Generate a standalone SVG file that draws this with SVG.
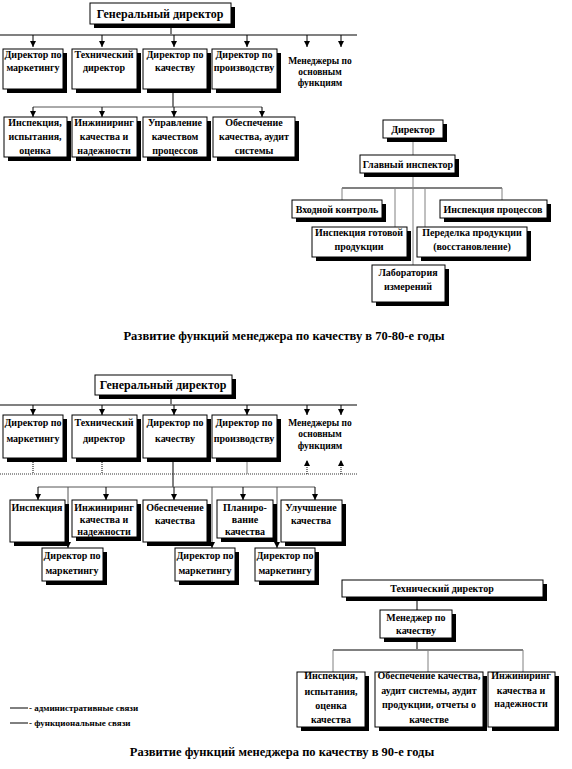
<svg xmlns="http://www.w3.org/2000/svg" width="572" height="769" viewBox="0 0 572 769">
<defs>
<style>
.sh{fill:#000}
.bx{fill:#fff;stroke:#000;stroke-width:1}
.t{font-family:"Liberation Serif","Times New Roman",serif;font-weight:bold;font-size:10px;fill:#000;text-anchor:middle}
.tb{font-size:12px}
.tm{font-size:9.5px}
.cap{font-family:"Liberation Serif","Times New Roman",serif;font-weight:bold;font-size:12.5px;fill:#000;text-anchor:middle}
.lg{font-family:"Liberation Serif","Times New Roman",serif;font-weight:bold;font-size:9px;fill:#000}
.bar{stroke:#808080;stroke-width:2;fill:none}
.gl{stroke:#808080;stroke-width:1;fill:none}
.dl{stroke:#555;stroke-width:1;fill:none}
.bl{stroke:#000;stroke-width:1;fill:none}
.dot{stroke:#000;stroke-width:1;stroke-dasharray:1,1;fill:none}
.dotg{stroke:#999;stroke-width:2;stroke-dasharray:1,1;fill:none}
</style>
<marker id="ah" viewBox="0 0 6 6" refX="6" refY="3" markerWidth="6" markerHeight="6" markerUnits="userSpaceOnUse" orient="auto"><path d="M0,0 L6,3 L0,6 z" fill="#000"/></marker>
</defs>
<rect width="572" height="769" fill="#fff"/>

<g id="connectors">
<!-- chart 1 -->
<line class="bl" x1="171" y1="24" x2="171" y2="35"/>
<line class="bar" x1="0" y1="35" x2="357" y2="35"/>
<line class="bl" x1="33" y1="35" x2="33" y2="47" marker-end="url(#ah)"/>
<line class="bl" x1="102" y1="35" x2="102" y2="47" marker-end="url(#ah)"/>
<line class="bl" x1="174" y1="35" x2="174" y2="47" marker-end="url(#ah)"/>
<line class="bl" x1="247" y1="35" x2="247" y2="47" marker-end="url(#ah)"/>
<line class="bl" x1="307" y1="35" x2="307" y2="47" marker-end="url(#ah)"/>
<line class="bl" x1="341" y1="35" x2="341" y2="47" marker-end="url(#ah)"/>
<line class="bl" x1="173" y1="93" x2="173" y2="107"/>
<line class="dl" x1="33" y1="107" x2="262" y2="107"/>
<line class="bl" x1="33" y1="107" x2="33" y2="117" marker-end="url(#ah)"/>
<line class="bl" x1="102" y1="107" x2="102" y2="117" marker-end="url(#ah)"/>
<line class="bl" x1="174" y1="107" x2="174" y2="117" marker-end="url(#ah)"/>
<line class="bl" x1="262" y1="107" x2="262" y2="117" marker-end="url(#ah)"/>
<!-- right chart 1 -->
<line class="gl" x1="413" y1="138" x2="413" y2="155"/>
<line class="gl" x1="413" y1="173" x2="413" y2="265"/>
<line class="bar" x1="342" y1="188" x2="502" y2="188"/>
<line class="gl" x1="342" y1="188" x2="342" y2="200"/>
<line class="gl" x1="502" y1="188" x2="502" y2="200"/>
<line class="gl" x1="395" y1="188" x2="395" y2="227"/>
<line class="gl" x1="425" y1="188" x2="425" y2="227"/>
<!-- chart 2 -->
<line class="bl" x1="171" y1="395" x2="171" y2="405"/>
<line class="bar" x1="0" y1="405" x2="357" y2="405"/>
<line class="bl" x1="33" y1="405" x2="33" y2="415" marker-end="url(#ah)"/>
<line class="bl" x1="102" y1="405" x2="102" y2="415" marker-end="url(#ah)"/>
<line class="bl" x1="174" y1="405" x2="174" y2="415" marker-end="url(#ah)"/>
<line class="bl" x1="247" y1="405" x2="247" y2="415" marker-end="url(#ah)"/>
<line class="bl" x1="307" y1="405" x2="307" y2="415" marker-end="url(#ah)"/>
<line class="bl" x1="341" y1="405" x2="341" y2="415" marker-end="url(#ah)"/>
<line class="dotg" x1="0" y1="474" x2="357" y2="474"/>
<line class="dot" x1="33" y1="462" x2="33" y2="474"/>
<line class="dot" x1="102" y1="462" x2="102" y2="474"/>
<line class="gl" x1="247" y1="462" x2="247" y2="474"/>
<line class="dot" x1="307" y1="474" x2="307" y2="460" marker-end="url(#ah)"/>
<line class="dot" x1="341" y1="474" x2="341" y2="460" marker-end="url(#ah)"/>
<line class="bl" x1="173" y1="462" x2="173" y2="487"/>
<line class="dl" x1="38" y1="487" x2="315" y2="487"/>
<line class="bl" x1="38" y1="487" x2="38" y2="500" marker-end="url(#ah)"/>
<line class="bl" x1="106" y1="487" x2="106" y2="500" marker-end="url(#ah)"/>
<line class="bl" x1="174" y1="487" x2="174" y2="500" marker-end="url(#ah)"/>
<line class="bl" x1="243" y1="487" x2="243" y2="500" marker-end="url(#ah)"/>
<line class="bl" x1="315" y1="487" x2="315" y2="500" marker-end="url(#ah)"/>
<line class="dl" x1="68" y1="487" x2="68" y2="548" marker-end="url(#ah)"/>
<line class="dl" x1="212" y1="487" x2="212" y2="548" marker-end="url(#ah)"/>
<line class="dl" x1="277" y1="487" x2="277" y2="548" marker-end="url(#ah)"/>
<!-- right chart 2 -->
<line class="bl" x1="417" y1="597" x2="417" y2="610"/>
<line class="bl" x1="417" y1="638" x2="417" y2="650"/>
<line class="bar" x1="333" y1="650" x2="523" y2="650"/>
<line class="gl" x1="333" y1="650" x2="333" y2="672"/>
<line class="gl" x1="428" y1="650" x2="428" y2="672"/>
<line class="gl" x1="523" y1="650" x2="523" y2="672"/>
</g>

<!-- ===== Chart 1 ===== -->
<g id="gd1"><rect class="sh" x="94" y="7" width="141" height="21"/><rect class="bx" x="90" y="3" width="141" height="21"/><text class="t tb" x="160" y="18">Генеральный директор</text></g>
<g id="c1-marketing"><rect class="sh" x="7" y="53" width="60" height="40"/><rect class="bx" x="3" y="49" width="60" height="40"/><text class="t" x="33" y="58">Директор по</text><text class="t" x="33" y="71">маркетингу</text></g>
<g id="c1-tech"><rect class="sh" x="76" y="53" width="65" height="40"/><rect class="bx" x="72" y="49" width="65" height="40"/><text class="t" x="104" y="58">Технический</text><text class="t" x="104" y="71">директор</text></g>
<g id="c1-quality"><rect class="sh" x="147" y="53" width="64" height="40"/><rect class="bx" x="143" y="49" width="64" height="40"/><text class="t" x="175" y="58">Директор по</text><text class="t" x="175" y="71">качеству</text></g>
<g id="c1-production"><rect class="sh" x="216" y="53" width="65" height="40"/><rect class="bx" x="212" y="49" width="65" height="40"/><text class="t" x="244" y="58">Директор по</text><text class="t" x="244" y="71">производству</text></g>
<g id="c1-managers"><text class="t tm" x="320" y="63.5">Менеджеры по</text><text class="t tm" x="320" y="74.5">основным</text><text class="t tm" x="320" y="85.5">функциям</text></g>

<g id="c1-inspection"><rect class="sh" x="8" y="121" width="63" height="40"/><rect class="bx" x="4" y="117" width="63" height="40"/><text class="t" x="35" y="125.5">Инспекция,</text><text class="t" x="35" y="140">испытания,</text><text class="t" x="35" y="153.5">оценка</text></g>
<g id="c1-engineering"><rect class="sh" x="76" y="121" width="65" height="40"/><rect class="bx" x="72" y="117" width="65" height="40"/><text class="t" x="104" y="125.5">Инжиниринг</text><text class="t" x="104" y="140">качества и</text><text class="t" x="104" y="153.5">надежности</text></g>
<g id="c1-process"><rect class="sh" x="147" y="121" width="64" height="40"/><rect class="bx" x="143" y="117" width="64" height="40"/><text class="t" x="175" y="125.5">Управление</text><text class="t" x="175" y="140">качеством</text><text class="t" x="175" y="153.5">процессов</text></g>
<g id="c1-assurance"><rect class="sh" x="217" y="121" width="82" height="40"/><rect class="bx" x="213" y="117" width="82" height="40"/><text class="t" x="254" y="125.5">Обеспечение</text><text class="t" x="254" y="140">качества, аудит</text><text class="t" x="254" y="153.5">системы</text></g>

<g id="r1-director"><rect class="sh" x="387" y="124" width="60" height="18"/><rect class="bx" x="383" y="120" width="60" height="18"/><text class="t" x="413" y="132.5">Директор</text></g>
<g id="r1-chief"><rect class="sh" x="364" y="159" width="95" height="18"/><rect class="bx" x="360" y="155" width="95" height="18"/><text class="t" x="408" y="167.5">Главный инспектор</text></g>
<g id="r1-incoming"><rect class="sh" x="296" y="204" width="90" height="18"/><rect class="bx" x="292" y="200" width="90" height="18"/><text class="t" x="337" y="212.5">Входной контроль</text></g>
<g id="r1-procinsp"><rect class="sh" x="444" y="204" width="107" height="18"/><rect class="bx" x="440" y="200" width="107" height="18"/><text class="t" x="493" y="212.5">Инспекция процессов</text></g>
<g id="r1-finished"><rect class="sh" x="316" y="231" width="95" height="30"/><rect class="bx" x="312" y="227" width="95" height="30"/><text class="t" x="359" y="235.5">Инспекция готовой</text><text class="t" x="359" y="250">продукции</text></g>
<g id="r1-rework"><rect class="sh" x="421" y="231" width="110" height="30"/><rect class="bx" x="417" y="227" width="110" height="30"/><text class="t" x="472" y="235.5">Переделка продукции</text><text class="t" x="472" y="250">(восстановление)</text></g>
<g id="r1-lab"><rect class="sh" x="376" y="269" width="73" height="37"/><rect class="bx" x="372" y="265" width="73" height="37"/><text class="t" x="408" y="276">Лаборатория</text><text class="t" x="408" y="290">измерений</text></g>

<text class="cap" x="284" y="340">Развитие  функций менеджера по качеству в 70-80-е  годы</text>

<!-- ===== Chart 2 ===== -->
<g id="gd2"><rect class="sh" x="99" y="379" width="137" height="20"/><rect class="bx" x="95" y="375" width="137" height="20"/><text class="t tb" x="163" y="389">Генеральный директор</text></g>
<g id="c2-marketing"><rect class="sh" x="7" y="419" width="60" height="43"/><rect class="bx" x="3" y="415" width="60" height="43"/><text class="t" x="33" y="426">Директор по</text><text class="t" x="33" y="441.5">маркетингу</text></g>
<g id="c2-tech"><rect class="sh" x="76" y="419" width="65" height="43"/><rect class="bx" x="72" y="415" width="65" height="43"/><text class="t" x="104" y="426">Технический</text><text class="t" x="104" y="441.5">директор</text></g>
<g id="c2-quality"><rect class="sh" x="147" y="419" width="64" height="43"/><rect class="bx" x="143" y="415" width="64" height="43"/><text class="t" x="175" y="426">Директор по</text><text class="t" x="175" y="441.5">качеству</text></g>
<g id="c2-production"><rect class="sh" x="216" y="419" width="65" height="43"/><rect class="bx" x="212" y="415" width="65" height="43"/><text class="t" x="244" y="426">Директор по</text><text class="t" x="244" y="441.5">производству</text></g>
<g id="c2-managers"><text class="t tm" x="320" y="425.5">Менеджеры по</text><text class="t tm" x="320" y="437">основным</text><text class="t tm" x="320" y="448.5">функциям</text></g>

<g id="c2-inspection"><rect class="sh" x="14" y="504" width="55" height="42"/><rect class="bx" x="10" y="500" width="55" height="42"/><text class="t" x="37" y="510.5">Инспекция</text></g>
<g id="c2-engineering"><rect class="sh" x="76" y="504" width="65" height="37"/><rect class="bx" x="72" y="500" width="65" height="37"/><text class="t" x="104" y="510.5">Инжиниринг</text><text class="t" x="104" y="523">качества и</text><text class="t" x="104" y="535">надежности</text></g>
<g id="c2-assurance"><rect class="sh" x="147" y="504" width="64" height="42"/><rect class="bx" x="143" y="500" width="64" height="42"/><text class="t" x="175" y="510.5">Обеспечение</text><text class="t" x="175" y="523.5">качества</text></g>
<g id="c2-planning"><rect class="sh" x="221" y="504" width="56" height="38"/><rect class="bx" x="217" y="500" width="56" height="38"/><text class="t" x="245" y="510.5">Планиро-</text><text class="t" x="245" y="522.5">вание</text><text class="t" x="245" y="535">качества</text></g>
<g id="c2-improvement"><rect class="sh" x="285" y="504" width="61" height="42"/><rect class="bx" x="281" y="500" width="61" height="42"/><text class="t" x="311" y="510.5">Улучшение</text><text class="t" x="311" y="523.5">качества</text></g>

<g id="c2-mkt1"><rect class="sh" x="46" y="552" width="61" height="33"/><rect class="bx" x="42" y="548" width="61" height="33"/><text class="t" x="72" y="558.5">Директор по</text><text class="t" x="72" y="573.5">маркетингу</text></g>
<g id="c2-mkt2"><rect class="sh" x="179" y="552" width="60" height="33"/><rect class="bx" x="175" y="548" width="60" height="33"/><text class="t" x="205" y="558.5">Директор по</text><text class="t" x="205" y="573.5">маркетингу</text></g>
<g id="c2-mkt3"><rect class="sh" x="259" y="552" width="60" height="33"/><rect class="bx" x="255" y="548" width="60" height="33"/><text class="t" x="285" y="558.5">Директор по</text><text class="t" x="285" y="573.5">маркетингу</text></g>

<g id="r2-tech"><rect class="sh" x="346" y="584" width="201" height="17"/><rect class="bx" x="342" y="580" width="201" height="17"/><text class="t" x="442" y="592">Технический директор</text></g>
<g id="r2-manager"><rect class="sh" x="384" y="614" width="72" height="28"/><rect class="bx" x="380" y="610" width="72" height="28"/><text class="t" x="416" y="620.5">Менеджер по</text><text class="t" x="416" y="633.5">качеству</text></g>
<g id="r2-inspection"><rect class="sh" x="301" y="676" width="68" height="55"/><rect class="bx" x="297" y="672" width="68" height="55"/><text class="t" x="331" y="678.5">Инспекция,</text><text class="t" x="331" y="695">испытания,</text><text class="t" x="331" y="708.5">оценка</text><text class="t" x="331" y="722.5">качества</text></g>
<g id="r2-assurance"><rect class="sh" x="379" y="676" width="108" height="55"/><rect class="bx" x="375" y="672" width="108" height="55"/><text class="t" x="429" y="678.5">Обеспечение качества,</text><text class="t" x="429" y="694">аудит системы, аудит</text><text class="t" x="429" y="708">продукции, отчеты о</text><text class="t" x="429" y="722.5">качестве</text></g>
<g id="r2-engineering"><rect class="sh" x="492" y="676" width="67" height="55"/><rect class="bx" x="488" y="672" width="67" height="55"/><text class="t" x="521" y="678.5">Инжиниринг</text><text class="t" x="521" y="694">качества и</text><text class="t" x="521" y="706.5">надежности</text></g>

<g id="legend">
<line class="bl" x1="10" y1="708" x2="28" y2="708"/>
<text class="lg" x="29" y="711">- административные связи</text>
<line class="bl" x1="10" y1="723" x2="28" y2="723"/>
<text class="lg" x="29" y="726">- функциональные связи</text>
</g>

<text class="cap" x="282" y="756">Развитие  функций менеджера по качеству в 90-е годы</text>
</svg>
